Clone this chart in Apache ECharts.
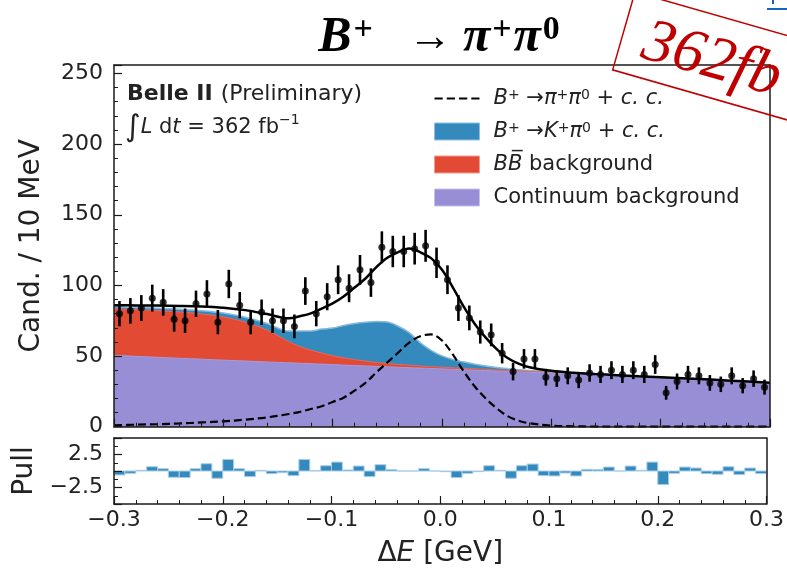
<!DOCTYPE html>
<html>
<head>
<meta charset="utf-8">
<script src="https://cdn.jsdelivr.net/npm/echarts@6.0.0/dist/echarts.min.js"></script>
<style>
  html, body { margin: 0; padding: 0; background: #fff; }
  #chart { width: 787px; height: 569px; }
</style>
</head>
<body>
<div id="chart"></div>
<script>
// ΔE fit of B+ -> pi+ pi0 candidates, 10 MeV bins from -0.3 to 0.3 GeV
const binLow = -0.3;
const binWidth = 0.01;

// candidates per bin
const counts = [80, 82, 84, 91, 88, 76, 75, 87, 94, 74, 101, 86, 74, 81, 75, 75, 71, 96, 80, 92,
                104, 98, 111, 102, 127, 124, 124, 126, 128, 116,
                104, 84, 77, 67, 65, 52, 39, 48, 48, 35, 34, 36, 33, 38, 37, 40, 37, 40, 37, 44,
                24, 32, 37, 36, 31, 30, 36, 29, 34, 28];

// pull per bin
const pulls = [-0.6, -0.35, 0.1, 0.65, 0.35, -0.95, -1.0, 0.35, 1.1, -1.1, 1.75, 0.35, -0.85, 0.1, -0.4,
               -0.25, -0.7, 1.75, 0.05, 0.8, 1.35, 0.15, 0.75, -0.85, 0.95, 0.2, 0.0, 0.0, 0.35, 0.0,
               -0.1, -1.0, -0.35, -0.1, 0.8, 0.1, -1.1, 0.8, 1.05, -0.7, -0.75, -0.3, -0.75, 0.25, 0.2,
               0.6, 0.0, 0.75, 0.1, 1.35, -2.05, -0.35, 0.6, 0.45, -0.4, -0.5, 0.65, -0.55, 0.45, -0.4];

// fit components sampled along ΔE
const curveX = [-0.30, -0.28, -0.26, -0.24, -0.22, -0.20, -0.18, -0.16, -0.14,
                -0.13, -0.12, -0.11, -0.10, -0.09, -0.08, -0.07, -0.06, -0.05, -0.04, -0.03, -0.02,
                -0.01, 0.00, 0.01, 0.02, 0.03, 0.04, 0.05, 0.06, 0.07, 0.08,
                0.10, 0.12, 0.14, 0.16, 0.18, 0.20, 0.22, 0.24, 0.26, 0.28, 0.30];
const continuum = [50.5, 49.8, 49.1, 48.4, 47.8, 47.1, 46.5, 45.8, 45.2,
                   44.9, 44.6, 44.3, 44.0, 43.6, 43.3, 43.0, 42.7, 42.4, 42.1, 41.8, 41.5,
                   41.2, 40.9, 40.6, 40.3, 40.0, 39.7, 39.4, 39.1, 38.8, 38.5,
                   37.9, 37.2, 36.6, 35.9, 35.2, 34.5, 33.8, 33.1, 32.3, 31.5, 30.7];
const bbBkg = [33.0, 33.0, 33.0, 32.8, 32.0, 30.5, 27.5, 22.5, 15.0,
               11.8, 9.6, 7.8, 6.3, 5.1, 4.2, 3.4, 2.8, 2.4, 2.0, 1.8, 1.5,
               1.3, 1.2, 1.1, 1.0, 0.95, 0.9, 0.85, 0.8, 0.75, 0.7,
               0.65, 0.6, 0.58, 0.55, 0.52, 0.5, 0.48, 0.46, 0.44, 0.42, 0.4];
const kpiBkg = [1.5, 1.6, 1.8, 2.0, 2.3, 2.8, 3.5, 4.8, 7.5,
                11.0, 13.5, 17.0, 19.5, 23.0, 25.5, 27.5, 29.0, 29.3, 27.0, 23.0, 16.5,
                11.5, 8.0, 5.8, 4.5, 3.3, 2.4, 1.7, 1.2, 0.8, 0.5,
                0.2, 0.1, 0, 0, 0, 0, 0, 0, 0, 0, 0];
const signal = [1.0, 1.4, 1.8, 2.3, 3.0, 3.8, 5.0, 6.6, 9.0,
                10.5, 12.5, 14.5, 17.5, 20.5, 25.5, 31.0, 38.5, 45.5, 52.5, 59.5, 64.0,
                65.3, 61.0, 51.0, 39.0, 28.5, 20.0, 13.0, 7.5, 4.3, 2.4,
                0.8, 0.3, 0.1, 0.05, 0, 0, 0, 0, 0, 0, 0];

// tick labels
const countTicks = [0, 50, 100, 150, 200, 250];
const pullTicks = [-2.5, 2.5];
const energyTicks = [-0.3, -0.2, -0.1, 0.0, 0.1, 0.2, 0.3];

const FONT = 'DejaVu Sans';
const INK = '#222';
const FRAME = '#1a1a1a';
const C_CONT = '#988ED5', C_BB = '#E24A33', C_KPI = '#348ABD';

const binCenters = counts.map((_, i) => +(binLow + binWidth * (i + 0.5)).toFixed(4));
// cumulative fit components: each filled band is drawn from zero, later ones on top
const upToCont = continuum.slice();
const upToBB = curveX.map((_, i) => continuum[i] + bbBkg[i]);
const upToKpi = curveX.map((_, i) => continuum[i] + bbBkg[i] + kpiBkg[i]);
const totalFit = curveX.map((_, i) => upToKpi[i] + signal[i]);
const pairs = (xs, ys) => xs.map((x, i) => [x, ys[i]]);
const near = (list, v) => list.some(t => Math.abs(t - v) < 1e-6);
const signed = (v, d) => (v < -1e-9 ? '\u2212' : '') + Math.abs(v).toFixed(d);

// rich styles for the math-like labels (colorKey: 'color' for components, 'fill' for graphic)
function mathRich(size, colorKey) {
  const c = {}; c[colorKey] = INK;
  return {
    n: Object.assign({ fontFamily: FONT, fontSize: size }, c),
    i: Object.assign({ fontFamily: FONT, fontStyle: 'italic', fontSize: size }, c),
    b: Object.assign({ fontFamily: FONT, fontWeight: 'bold', fontSize: size }, c),
    s: Object.assign({ fontFamily: FONT, fontSize: Math.round(size * 0.68), verticalAlign: 'top' }, c),
    big: Object.assign({ fontFamily: FONT, fontSize: Math.round(size * 1.45) }, c),
    sp: { width: 9 },
    gap: { width: 8 }
  };
}

const legendLabels = {
  sig: '{sp|}{i|B}{s|+}{n| →}{i|π}{s|+}{i|π}{s|0}{n| + }{i|c. c.}',
  kpi: '{sp|}{i|B}{s|+}{n| →}{i|K}{s|+}{i|π}{s|0}{n| + }{i|c. c.}',
  bb: '{sp|}{i|BB\u0305}{n| background}',
  cont: '{sp|}{n|Continuum background}'
};

const frameLine = { show: true, onZero: false, lineStyle: { color: FRAME, width: 1.5 } };
const tickIn = { show: true, inside: true, length: 8, lineStyle: { color: FRAME, width: 1.2 } };
const minorIn = (n) => ({ show: true, splitNumber: n, length: 4, lineStyle: { color: FRAME, width: 1 } });
const bareAxis = (extra) => Object.assign({
  type: 'value', z: 10, axisLine: frameLine, axisTick: { show: false },
  axisLabel: { show: false }, splitLine: { show: false }
}, extra);
const tickLabel = (fmt) => ({ show: true, margin: 11, fontFamily: FONT, fontSize: 22, color: INK, formatter: fmt });

const chart = echarts.init(document.getElementById('chart'));
chart.setOption({
  animation: false,
  backgroundColor: '#fff',
  grid: [
    { left: 114, right: 17, top: 65, height: 361.7 },
    { left: 114, right: 17, top: 438, height: 68 }
  ],
  xAxis: [
    bareAxis({ gridIndex: 0, min: -0.3, max: 0.3, interval: 0.1,
      axisTick: tickIn, minorTick: minorIn(5) }),
    bareAxis({ gridIndex: 0, position: 'top', min: -0.3, max: 0.3 }),
    bareAxis({ gridIndex: 1, min: -0.3, max: 0.3, interval: 0.1,
      axisTick: tickIn, minorTick: minorIn(5),
      axisLabel: Object.assign(tickLabel(v => near(energyTicks, v) ? signed(v, 1) : ''), { margin: 5 }),
      name: '{n|Δ}{i|E}{n| [GeV]}', nameLocation: 'middle', nameGap: 36,
      nameTextStyle: { rich: mathRich(28, 'color') } }),
    bareAxis({ gridIndex: 1, position: 'top', min: -0.3, max: 0.3 })
  ],
  yAxis: [
    bareAxis({ gridIndex: 0, min: 0, max: 256, interval: 50,
      axisTick: tickIn, minorTick: minorIn(5),
      axisLabel: tickLabel(v => near(countTicks, v) ? String(v) : ''),
      name: 'Cand. / 10 MeV', nameLocation: 'middle', nameGap: 68,
      nameTextStyle: { fontFamily: FONT, fontSize: 28, color: INK } }),
    bareAxis({ gridIndex: 0, position: 'right', min: 0, max: 256 }),
    bareAxis({ gridIndex: 1, min: -5, max: 5, interval: 2.5,
      axisTick: tickIn, minorTick: minorIn(2),
      axisLabel: tickLabel(v => near(pullTicks, v) ? signed(v, 1) : ''),
      name: 'Pull', nameLocation: 'middle', nameGap: 68,
      nameTextStyle: { fontFamily: FONT, fontSize: 28, color: INK } }),
    bareAxis({ gridIndex: 1, position: 'right', min: -5, max: 5 })
  ],
  legend: {
    orient: 'vertical', left: 429, top: 83, itemWidth: 45, itemHeight: 17, itemGap: 12,
    selectedMode: false,
    data: [
      { name: 'sig', icon: 'path://M0,0H8V2H0Z M12,0H20V2H12Z M24,0H32V2H24Z M36,0H44V2H36Z',
        itemStyle: { color: '#000', borderWidth: 0 } },
      { name: 'kpi', icon: 'rect', itemStyle: { color: C_KPI, borderColor: '#8fbfe0', borderWidth: 1 } },
      { name: 'bb', icon: 'rect', itemStyle: { color: C_BB, borderColor: '#f29a8c', borderWidth: 1 } },
      { name: 'cont', icon: 'rect', itemStyle: { color: C_CONT, borderColor: '#c6c0ec', borderWidth: 1 } }
    ],
    formatter: name => legendLabels[name],
    textStyle: { fontFamily: FONT, fontSize: 21, color: INK, rich: mathRich(21, 'color') }
  },
  graphic: [
    { type: 'text', z: 100, x: 440, y: 38,
      style: { text: '{b|B}{s|+}{a|→}{b|π}{s|+}{b|π}{s|0}', align: 'center', verticalAlign: 'middle',
        rich: {
          b: { fontFamily: 'Liberation Serif', fontStyle: 'italic', fontWeight: 'bold', fontSize: 50, fill: '#000' },
          s: { fontFamily: 'Liberation Serif', fontWeight: 'bold', fontSize: 34, fill: '#000',
               verticalAlign: 'top', padding: [0, 2, 0, 2] },
          a: { fontFamily: 'Liberation Serif', fontSize: 44, fill: '#000', padding: [0, 11, 0, 33] }
        } } },
    { type: 'text', z: 100, x: 127, y: 94,
      style: { text: '{b|Belle II}{gap|}{n|(Preliminary)}', verticalAlign: 'middle', rich: mathRich(22, 'fill') } },
    { type: 'text', z: 100, x: 125, y: 128,
      style: { text: '{big|∫}{i|L}{n| d}{i|t}{n| = 362 fb}{s|\u22121}', verticalAlign: 'middle',
        rich: mathRich(21, 'fill') } },
    { type: 'group', z: 100, x: 635, y: -8, rotation: -16 * Math.PI / 180,
      children: [
        { type: 'rect', z: 100, shape: { x: 0, y: 0, width: 260, height: 81 },
          style: { fill: 'none', stroke: '#C00000', lineWidth: 1.5 } },
        { type: 'text', z: 100, x: 22, y: 14,
          style: { text: '362fb', fontFamily: 'Liberation Serif', fontStyle: 'italic', fontSize: 62,
            fill: '#C00000', verticalAlign: 'top' } }
      ] },
    { type: 'rect', z: 100, shape: { x: 767, y: 8, width: 20, height: 2 }, style: { fill: '#1565C0' } },
    { type: 'rect', z: 100, shape: { x: 772, y: 0, width: 2, height: 4 }, style: { fill: '#1565C0' } }
  ],
  series: [
    { name: 'kpi', type: 'line', xAxisIndex: 0, yAxisIndex: 0, smooth: 0.35,
      symbol: 'none', z: 2, data: pairs(curveX, upToKpi),
      itemStyle: { color: C_KPI }, lineStyle: { color: '#86b9de', width: 1.5 },
      areaStyle: { color: C_KPI, opacity: 1 } },
    { name: 'bb', type: 'line', xAxisIndex: 0, yAxisIndex: 0, smooth: 0.35,
      symbol: 'none', z: 2, data: pairs(curveX, upToBB),
      itemStyle: { color: C_BB }, lineStyle: { color: '#e8685a', width: 1 },
      areaStyle: { color: C_BB, opacity: 1 } },
    { name: 'cont', type: 'line', xAxisIndex: 0, yAxisIndex: 0, smooth: 0.35,
      symbol: 'none', z: 2, data: pairs(curveX, upToCont),
      itemStyle: { color: C_CONT }, lineStyle: { color: '#a59ddb', width: 1 },
      areaStyle: { color: C_CONT, opacity: 1 } },
    { name: 'sig', type: 'line', xAxisIndex: 0, yAxisIndex: 0, smooth: 0.35, symbol: 'none', z: 4,
      data: pairs(curveX, signal), itemStyle: { color: '#000' },
      lineStyle: { color: '#000', width: 2.2, type: [8, 4] } },
    { name: 'total', type: 'line', xAxisIndex: 0, yAxisIndex: 0, smooth: 0.35, symbol: 'none', z: 5,
      data: pairs(curveX, totalFit), lineStyle: { color: '#000', width: 2.5 } },
    { name: 'errors', type: 'custom', xAxisIndex: 0, yAxisIndex: 0, z: 6, silent: true,
      data: binCenters.map((x, i) => [x, counts[i] - Math.sqrt(counts[i]), counts[i] + Math.sqrt(counts[i])]),
      encode: { x: 0, y: [1, 2] },
      renderItem: (params, api) => {
        const lo = api.coord([api.value(0), api.value(1)]);
        const hi = api.coord([api.value(0), api.value(2)]);
        return { type: 'line', shape: { x1: lo[0], y1: lo[1], x2: hi[0], y2: hi[1] },
          style: { stroke: '#000', lineWidth: 2.6 } };
      } },
    { name: 'data', type: 'scatter', xAxisIndex: 0, yAxisIndex: 0, z: 7, symbolSize: 7,
      data: pairs(binCenters, counts), itemStyle: { color: '#000' } },
    { name: 'pull', type: 'custom', xAxisIndex: 2, yAxisIndex: 2, z: 3, silent: true,
      data: pairs(binCenters, pulls), encode: { x: 0, y: 1 },
      renderItem: (params, api) => {
        const x = api.value(0), p = api.value(1);
        const a = api.coord([x - binWidth / 2, 0]);
        const b = api.coord([x + binWidth / 2, p]);
        return { type: 'rect',
          shape: { x: a[0], y: Math.min(a[1], b[1]), width: b[0] - a[0], height: Math.abs(b[1] - a[1]) },
          style: { fill: C_KPI, stroke: '#a9cde8', lineWidth: 1 } };
      } }
  ]
});
</script>
</body>
</html>
